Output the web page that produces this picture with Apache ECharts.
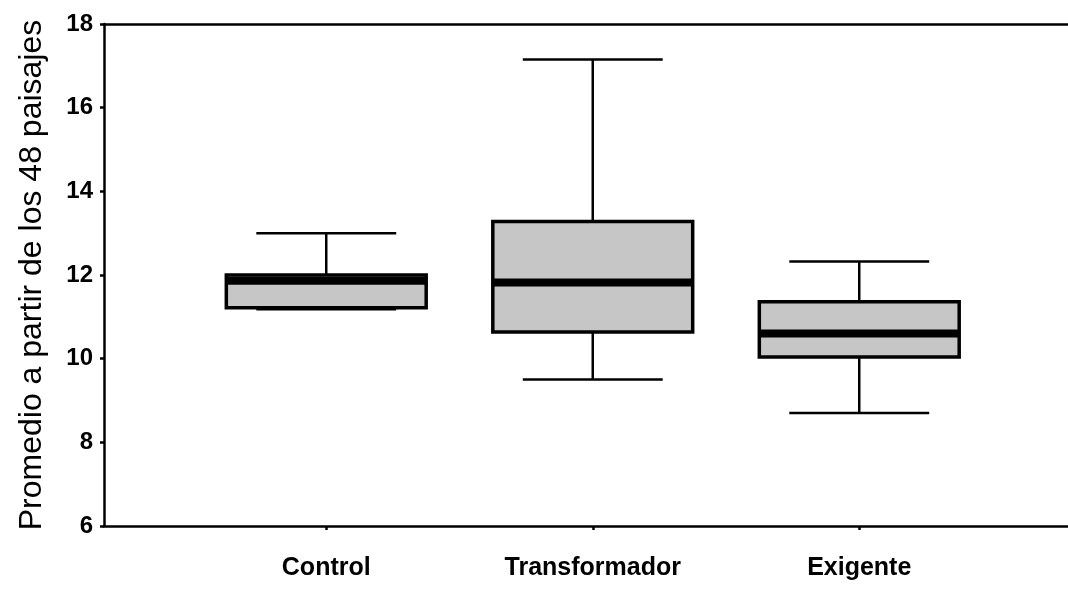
<!DOCTYPE html>
<html>
<head>
<meta charset="utf-8">
<script src="https://cdn.jsdelivr.net/npm/echarts@6/dist/echarts.min.js"></script>
<style>
  html, body { margin: 0; padding: 0; background: #fff; }
  #chart { width: 1068px; height: 589px; }
</style>
</head>
<body>
<div id="chart"></div>
<script>
// groups on the x axis
var categories = ['Control', 'Transformador', 'Exigente']
// box statistics
var whiskerLow = [11.18, 9.5, 8.7]
var quartile1 = [11.22, 10.64, 10.04]
var medians = [11.86, 11.82, 10.6]
var quartile3 = [12.0, 13.28, 11.36]
var whiskerHigh = [13.0, 17.15, 12.32]
var yTicks = { min: 6, max: 18, interval: 2 }

var boxData = categories.map(function (c, i) {
  return [i, whiskerLow[i], quartile1[i], medians[i], quartile3[i], whiskerHigh[i]]
})

var font = 'Arial, "Liberation Sans", sans-serif'

function renderBox(params, api) {
  var x = api.value(0)
  var lo = api.coord([x, api.value(1)])
  var q1 = api.coord([x, api.value(2)])
  var med = api.coord([x, api.value(3)])
  var q3 = api.coord([x, api.value(4)])
  var hi = api.coord([x, api.value(5)])
  var band = api.size([1, 0])[0]
  var boxW = band * 0.75
  var capW = band * 0.525
  var cx = q1[0]
  var line = { stroke: '#000', lineWidth: 2.5 }
  return {
    type: 'group',
    children: [
      { type: 'line', shape: { x1: cx, y1: hi[1], x2: cx, y2: q3[1] }, style: line },
      { type: 'line', shape: { x1: cx, y1: lo[1], x2: cx, y2: q1[1] }, style: line },
      { type: 'line', shape: { x1: cx - capW / 2, y1: hi[1], x2: cx + capW / 2, y2: hi[1] }, style: line },
      { type: 'line', shape: { x1: cx - capW / 2, y1: lo[1], x2: cx + capW / 2, y2: lo[1] }, style: line },
      {
        type: 'rect',
        shape: { x: cx - boxW / 2, y: q3[1], width: boxW, height: q1[1] - q3[1] },
        style: { fill: '#c6c6c6', stroke: '#000', lineWidth: 3.5 }
      },
      {
        type: 'line',
        shape: { x1: cx - boxW / 2, y1: med[1], x2: cx + boxW / 2, y2: med[1] },
        style: { stroke: '#000', lineWidth: 8 }
      }
    ]
  }
}

var chart = echarts.init(document.getElementById('chart'))
chart.setOption({
  animation: false,
  backgroundColor: '#fff',
  grid: [
    { left: 104, right: 0, top: 24, bottom: 63 },
    { left: 193, right: 75.5, top: 24, bottom: 63 }
  ],
  xAxis: [
    {
      gridIndex: 0, type: 'value', min: 0, max: 1,
      axisLine: { show: true, lineStyle: { color: '#000', width: 2.5 } },
      axisTick: { show: false }, axisLabel: { show: false }, splitLine: { show: false }
    },
    {
      gridIndex: 0, type: 'value', min: 0, max: 1, position: 'top',
      axisLine: { show: true, lineStyle: { color: '#000', width: 2.5 } },
      axisTick: { show: false }, axisLabel: { show: false }, splitLine: { show: false }
    },
    {
      gridIndex: 1, type: 'category', data: categories,
      axisLine: { show: false },
      axisTick: { show: true, alignWithLabel: true, length: 4, lineStyle: { color: '#000', width: 2.5 } },
      axisLabel: { color: '#000', fontSize: 25, fontWeight: 'bold', fontFamily: font, margin: 30 },
      splitLine: { show: false }
    }
  ],
  yAxis: [
    {
      gridIndex: 0, type: 'value',
      min: yTicks.min, max: yTicks.max, interval: yTicks.interval,
      name: 'Promedio a partir de los 48 paisajes',
      nameLocation: 'middle', nameGap: 56,
      nameTextStyle: { color: '#000', fontSize: 32, fontFamily: font },
      axisLine: { show: true, lineStyle: { color: '#000', width: 2.5 } },
      axisTick: { show: true, length: 4, lineStyle: { color: '#000', width: 2.5 } },
      axisLabel: { color: '#000', fontSize: 24, fontWeight: 'bold', fontFamily: font, margin: 11 },
      splitLine: { show: false }
    },
    {
      gridIndex: 1, type: 'value',
      min: yTicks.min, max: yTicks.max, interval: yTicks.interval,
      show: false
    }
  ],
  series: [
    {
      type: 'custom',
      xAxisIndex: 2,
      yAxisIndex: 1,
      renderItem: renderBox,
      encode: { x: 0, y: [1, 2, 3, 4, 5] },
      data: boxData
    }
  ]
})
</script>
</body>
</html>
